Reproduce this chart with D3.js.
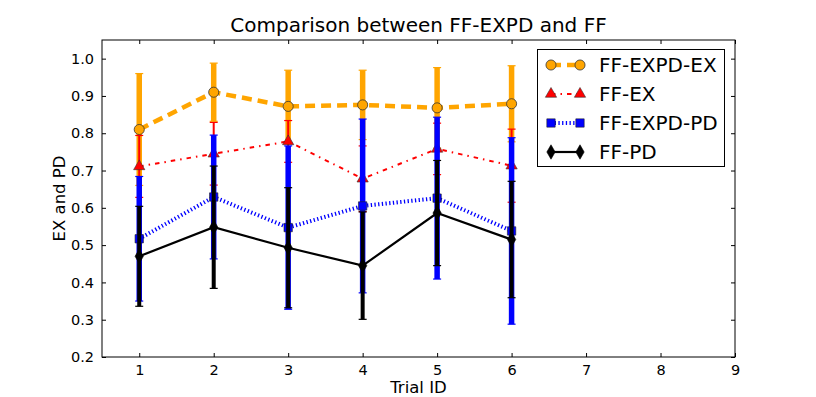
<!DOCTYPE html>
<html>
<head>
<meta charset="utf-8">
<script src="https://cdn.jsdelivr.net/npm/d3@7"></script>
<style>
  html, body { margin: 0; padding: 0; background: #fff; }
  svg { display: block; font-family: "DejaVu Sans", sans-serif; }
</style>
</head>
<body>
<svg id="chart" width="816" height="397"></svg>
<script>
// ---- data ----
const trialIds = [1, 2, 3, 4, 5, 6];
const xTicks = [1, 2, 3, 4, 5, 6, 7, 8, 9];
const yTicks = [0.2, 0.3, 0.4, 0.5, 0.6, 0.7, 0.8, 0.9, 1.0];
const seriesNames = ["FF-EXPD-EX", "FF-EX", "FF-EXPD-PD", "FF-PD"];
const expdExMean = [0.810, 0.910, 0.872, 0.876, 0.868, 0.879];
const expdExErr  = [0.150, 0.078, 0.097, 0.093, 0.108, 0.102];
const exMean     = [0.711, 0.745, 0.778, 0.678, 0.758, 0.713];
const exErr      = [0.083, 0.084, 0.056, 0.088, 0.069, 0.098];
const expdPdMean = [0.517, 0.629, 0.547, 0.605, 0.626, 0.538];
const expdPdErr  = [0.167, 0.166, 0.219, 0.233, 0.217, 0.250];
const pdMean     = [0.470, 0.548, 0.493, 0.445, 0.586, 0.515];
const pdErr      = [0.134, 0.164, 0.161, 0.144, 0.141, 0.156];

const styles = [
  { color: "#FFA500", lw: 4.5, dash: "10,6", barW: 5.5, symbol: d3.symbolCircle, size: 80, edge: "#333", edgeW: 0.8 },
  { color: "#FF0000", lw: 2, dash: "4.5,5,1.5,5", barW: 2, symbol: d3.symbolTriangle, size: 55, edge: "#333", edgeW: 0.6 },
  { color: "#0000FF", lw: 4, dash: "1.3,2.4", barW: 5.5, symbol: d3.symbolSquare, size: 70, edge: "#222", edgeW: 0.6 },
  { color: "#000000", lw: 2.2, dash: null, barW: 4, symbol: d3.symbolDiamond, size: 60, edge: "#000", edgeW: 0.6 }
];
const means = [expdExMean, exMean, expdPdMean, pdMean];
const errs = [expdExErr, exErr, expdPdErr, pdErr];

// ---- layout ----
const svg = d3.select("#chart");
const L = 102, R = 735, T = 40, B = 357;
const x = d3.scaleLinear().domain([0.5, 9]).range([L, R]);
const y = d3.scaleLinear().domain([0.2, 1.05]).range([B, T]);

// frame
svg.append("rect").attr("x", L).attr("y", T).attr("width", R - L).attr("height", B - T)
  .attr("fill", "none").attr("stroke", "#000").attr("stroke-width", 1);

// axes (ticks inward, both sides)
const tickLen = 4;
const xAxis = svg.append("g").attr("transform", `translate(0,${B})`)
  .call(d3.axisBottom(x).tickValues(xTicks).tickFormat(d3.format("d")).tickSizeInner(-tickLen).tickSizeOuter(0).tickPadding(8));
const xAxisTop = svg.append("g").attr("transform", `translate(0,${T})`)
  .call(d3.axisTop(x).tickValues(xTicks).tickFormat("").tickSizeInner(-tickLen).tickSizeOuter(0));
const yAxis = svg.append("g").attr("transform", `translate(${L},0)`)
  .call(d3.axisLeft(y).tickValues(yTicks).tickFormat(d3.format(".1f")).tickSizeInner(-tickLen).tickSizeOuter(0).tickPadding(8));
const yAxisR = svg.append("g").attr("transform", `translate(${R},0)`)
  .call(d3.axisRight(y).tickValues(yTicks).tickFormat("").tickSizeInner(-tickLen).tickSizeOuter(0));
[xAxis, xAxisTop, yAxis, yAxisR].forEach(g => {
  g.select(".domain").remove();
  g.selectAll("text").attr("font-size", 14.5).attr("font-family", "DejaVu Sans, sans-serif").attr("fill", "#000");
});

// titles
svg.append("text").attr("x", (L + R) / 2).attr("y", 32).attr("text-anchor", "middle")
  .attr("font-size", 20).text("Comparison between FF-EXPD and FF");
svg.append("text").attr("x", (L + R) / 2).attr("y", 393).attr("text-anchor", "middle")
  .attr("font-size", 16.5).text("Trial ID");
svg.append("text").attr("transform", `translate(65,${(T + B) / 2}) rotate(-90)`).attr("text-anchor", "middle")
  .attr("font-size", 16.5).text("EX and PD");

// ---- series ----
const plot = svg.append("g");
const capHalf = 4;
means.forEach((m, si) => {
  const st = styles[si];
  const e = errs[si];
  const g = plot.append("g");
  const pts = trialIds.map((t, i) => ({ t, v: m[i], e: e[i] }));
  // error bars
  g.selectAll("line.bar").data(pts).join("line")
    .attr("x1", d => x(d.t)).attr("x2", d => x(d.t))
    .attr("y1", d => y(d.v - d.e)).attr("y2", d => y(d.v + d.e))
    .attr("stroke", st.color).attr("stroke-width", st.barW);
  ["-", "+"].forEach(sgn => {
    g.selectAll("line.cap" + (sgn === "+" ? "p" : "m")).data(pts).join("line")
      .attr("x1", d => x(d.t) - capHalf).attr("x2", d => x(d.t) + capHalf)
      .attr("y1", d => y(sgn === "+" ? d.v + d.e : d.v - d.e))
      .attr("y2", d => y(sgn === "+" ? d.v + d.e : d.v - d.e))
      .attr("stroke", st.color).attr("stroke-width", 1.2);
  });
  // line
  const line = d3.line().x(d => x(d.t)).y(d => y(d.v));
  g.append("path").datum(pts).attr("d", line).attr("fill", "none")
    .attr("stroke", st.color).attr("stroke-width", st.lw)
    .attr("stroke-dasharray", st.dash);
  // markers
  g.selectAll("path.mk").data(pts).join("path")
    .attr("transform", d => `translate(${x(d.t)},${y(d.v)})`)
    .attr("d", d3.symbol().type(st.symbol).size(st.size))
    .attr("fill", st.color).attr("stroke", st.edge).attr("stroke-width", st.edgeW);
});

// ---- legend ----
const lg = svg.append("g");
lg.append("rect").attr("x", 537.5).attr("y", 49.5).attr("width", 187).attr("height", 117)
  .attr("fill", "#fff").attr("stroke", "#000").attr("stroke-width", 1);
const legY = [65, 94, 123, 152];
seriesNames.forEach((name, i) => {
  const st = styles[i];
  const yy = legY[i];
  const x0 = 551, x1 = 580;
  lg.append("line").attr("x1", x0).attr("x2", x1).attr("y1", yy).attr("y2", yy)
    .attr("stroke", st.color).attr("stroke-width", st.lw).attr("stroke-dasharray", st.dash);
  [x0, x1].forEach(xx => {
    lg.append("path").attr("transform", `translate(${xx},${yy})`)
      .attr("d", d3.symbol().type(st.symbol).size(st.size))
      .attr("fill", st.color).attr("stroke", st.edge).attr("stroke-width", st.edgeW);
  });
  lg.append("text").attr("x", 599).attr("y", yy + 7).attr("font-size", 20).text(name);
});
</script>
</body>
</html>
